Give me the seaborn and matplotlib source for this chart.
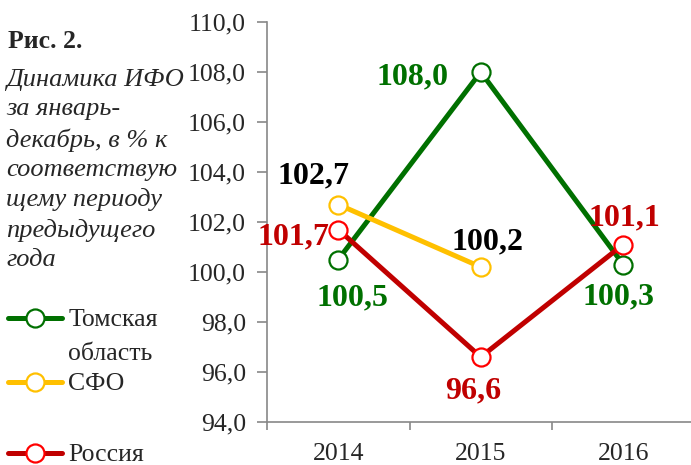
import numpy as np
import pandas as pd
import matplotlib.pyplot as plt
import seaborn as sns

# data
years = [2014, 2015, 2016]
tomsk = [100.5, 108.0, 100.3]
sfo = [102.7, 100.2, np.nan]
russia = [101.7, 96.6, 101.1]
names = ['Томская область', 'СФО', 'Россия']
yticks = [94, 96, 98, 100, 102, 104, 106, 108, 110]

# style
sns.set_style('ticks')
plt.rcParams['font.family'] = ['Liberation Serif', 'DejaVu Serif']
plt.rcParams['font.size'] = 18.5

green = '#007000'
yellow = '#FFC000'
dred = '#C00000'
red = '#FF0000'

fig = plt.figure(figsize=(6.91, 4.65), dpi=100)
ax = fig.add_axes([267 / 691, 43 / 465, 427.5 / 691, 400 / 465])

series = [
    (tomsk, names[0], green, green),
    (sfo, names[1], yellow, yellow),
    (russia, names[2], dred, red),
]
for vals, name, col, edge in series:
    df = pd.DataFrame({'year': years, 'value': vals}).dropna()
    sns.lineplot(data=df, x='year', y='value', ax=ax, color=col, linewidth=3.6,
                 marker='o', markersize=13, markerfacecolor='white',
                 markeredgecolor=edge, markeredgewidth=1.6, label=name)
if ax.get_legend():
    ax.get_legend().remove()

ax.set_xlim(2013.5, 2016.5)
ax.set_ylim(94, 110)
ax.set_yticks(yticks)
ax.set_yticklabels([f'{v:.1f}'.replace('.', ',') for v in yticks])
ax.set_xticks(years)
ax.set_xticklabels([str(y) for y in years])
ax.set_xticks([2013.5, 2014.5, 2015.5, 2016.5], minor=True)
ax.tick_params(axis='x', which='major', length=0, pad=15)
ax.tick_params(axis='x', which='minor', length=6, color='#888888', width=1.2)
ax.tick_params(axis='y', length=7, color='#888888', width=1.2, pad=8)
ax.set_xlabel('')
ax.set_ylabel('')
for s in ['top', 'right']:
    ax.spines[s].set_visible(False)
for s in ['left', 'bottom']:
    ax.spines[s].set_color('#888888')
    ax.spines[s].set_linewidth(1.2)

# data labels (offsets in pixels)
offsets = {
    0: [(14, -38), (-68, -5), (-5, -32)],
    1: [(-25, 29), (7, 25), None],
    2: [(-45, -7), (-8, -34), (1, 27)],
}
label_colors = [green, 'black', dred]
for i, (vals, name, col, edge) in enumerate(series):
    for j, (x, v) in enumerate(zip(years, vals)):
        if np.isnan(v) or offsets[i][j] is None:
            continue
        ax.annotate(f'{v:.1f}'.replace('.', ','), (x, v), xytext=offsets[i][j],
                    textcoords='offset pixels', ha='center', va='center',
                    fontsize=23, fontweight='bold', color=label_colors[i],
                    annotation_clip=False)

# caption on the left
fig.text(8 / 691, 1 - 48 / 465, 'Рис. 2.', fontweight='bold', va='baseline', ha='left')
fig.text(6 / 691, 1 - 266 / 465,
         'Динамика ИФО\nза январь-\nдекабрь, в % к\nсоответствую\nщему периоду\nпредыдущего\nгода',
         style='italic', va='baseline', ha='left', linespacing=1.42, fontsize=19)

# legend, one entry at a time
handles, labels = ax.get_legend_handles_labels()
leg_y = [320, 384, 455]
leg_txt = ['Томская', 'СФО', 'Россия']
for h, t, y in zip(handles, leg_txt, leg_y):
    lg = fig.legend(handles=[h], labels=[t], loc='center left',
                    bbox_to_anchor=(8 / 691, 1 - y / 465), frameon=False,
                    borderpad=0, borderaxespad=0, handlelength=2.1,
                    handletextpad=0.25, fontsize=18.5)
fig.text(68 / 691, 1 - 360 / 465, 'область', va='baseline', ha='left')

fig.savefig('out.png', dpi=100)
